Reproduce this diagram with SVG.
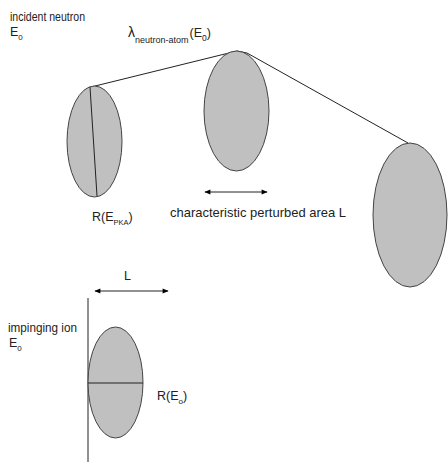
<svg xmlns="http://www.w3.org/2000/svg" width="448" height="462" viewBox="0 0 448 462">
<defs>
<marker id="ah" viewBox="0 0 10 10" refX="9" refY="5" markerWidth="8" markerHeight="6" orient="auto-start-reverse" markerUnits="userSpaceOnUse">
<path d="M0,1 L10,5 L0,9 Z" fill="#000"/>
</marker>
<style>
.t{font-family:"Liberation Sans",Arial,sans-serif;fill:#222;}
.blob{fill:#c0c0c0;stroke:#444;stroke-width:1;}
.ln{stroke:#222;stroke-width:1;fill:none;}
</style>
</defs>
<rect width="448" height="462" fill="#fff"/>
<g id="connectors">
<polyline class="ln" points="91,87 237,51 247,53 408,143"/>
<line class="ln" x1="205" y1="192" x2="267" y2="192" marker-start="url(#ah)" marker-end="url(#ah)"/>
<line class="ln" x1="95" y1="291" x2="168" y2="291" marker-start="url(#ah)" marker-end="url(#ah)"/>
<line class="ln" x1="88" y1="298" x2="88" y2="462"/>
</g>
<g id="node-pka">
<ellipse class="blob" cx="94.5" cy="141.5" rx="27.5" ry="55.5"/>
<line class="ln" x1="90" y1="87" x2="97" y2="196"/>
</g>
<g id="node-middle">
<ellipse class="blob" cx="236.5" cy="111" rx="32.5" ry="60"/>
</g>
<g id="node-right">
<ellipse class="blob" cx="410" cy="215" rx="37" ry="72"/>
</g>
<g id="node-ion">
<ellipse class="blob" cx="115.5" cy="382.5" rx="27.5" ry="55.5"/>
<line class="ln" x1="88" y1="383" x2="143" y2="383" stroke-width="1.5"/>
</g>
<g id="labels">
<text class="t" x="10" y="21" font-size="12.5" textLength="75" lengthAdjust="spacingAndGlyphs">incident neutron</text>
<text class="t" x="10" y="36" font-size="12.5">E<tspan font-size="8" dy="4">0</tspan></text>
<text class="t" x="128" y="37" font-size="14">λ<tspan font-size="9" dy="6">neutron-atom</tspan><tspan font-size="12.5" dy="-6" dx="1">(E</tspan><tspan font-size="8.5" dy="4">0</tspan><tspan font-size="12.5" dy="-4">)</tspan></text>
<text class="t" x="92" y="221" font-size="12.5">R(E<tspan font-size="7.5" dy="4">PKA</tspan><tspan dy="-4">)</tspan></text>
<text class="t" x="170" y="217" font-size="13.5" textLength="176" lengthAdjust="spacingAndGlyphs">characteristic perturbed area L</text>
<text class="t" x="124" y="280" font-size="12.5">L</text>
<text class="t" x="8" y="332" font-size="12.5" textLength="69" lengthAdjust="spacingAndGlyphs">impinging ion</text>
<text class="t" x="9" y="347" font-size="12.5">E<tspan font-size="8" dy="4">0</tspan></text>
<text class="t" x="157" y="400" font-size="12.5">R(E<tspan font-size="8" dy="4">o</tspan><tspan dy="-4">)</tspan></text>
</g>
</svg>
